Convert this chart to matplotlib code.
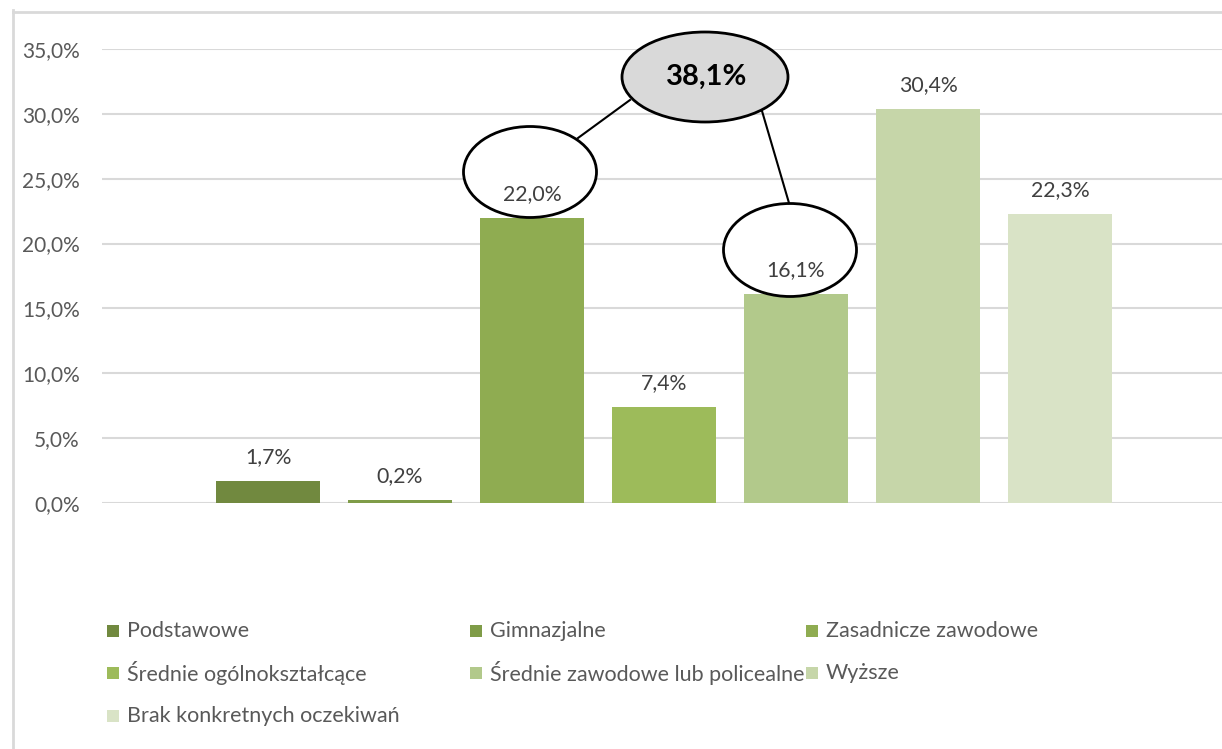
import matplotlib.pyplot as plt
from matplotlib.patches import Ellipse, Rectangle
from matplotlib.lines import Line2D

# Data
categories = ["Podstawowe", "Gimnazjalne", "Zasadnicze zawodowe", "Średnie ogólnokształcące",
              "Średnie zawodowe lub policealne", "Wyższe", "Brak konkretnych oczekiwań"]
values = [1.7, 0.2, 22.0, 7.4, 16.1, 30.4, 22.3]
colors = ["#71893F", "#7F9C48", "#8FAC51", "#9DBB5A", "#B2C98B", "#C6D6A9", "#D9E3C6"]
yticks = [0, 5, 10, 15, 20, 25, 30, 35]


def pl(v):
    return f"{v:.1f}%".replace(".", ",")


W, H = 1222, 749
plt.rcParams['font.family'] = ['Lato', 'DejaVu Sans']
fig = plt.figure(figsize=(W / 100, H / 100), dpi=100)


def fx(x):
    return x / W


def fy(y):
    return 1 - y / H


ax = fig.add_axes([fx(102), fy(503), (1226 - 102) / W, (503 - 49) / H])
xs = list(range(len(values)))
ax.bar(xs, values, width=104 / 132, color=colors, zorder=2)
ax.set_xlim(-1.258, 7.258)
ax.set_ylim(0, 35)
ax.set_yticks(yticks)
ax.set_yticklabels([pl(t) for t in yticks])
ax.set_xticks([])
ax.tick_params(axis='y', length=0, pad=16, labelsize=15, labelcolor='#595959')
ax.yaxis.grid(True, color='#D9D9D9', lw=1.5, zorder=0)
ax.set_axisbelow(True)
for s in ax.spines.values():
    s.set_visible(False)

# data labels
for i, v in enumerate(values):
    ax.annotate(pl(v), (i, v), xytext=(0, 14), textcoords='offset pixels',
                ha='center', va='bottom', fontsize=15.3, color='#404040', zorder=5)

# ellipses: sum of Zasadnicze + Średnie zawodowe
ell = [(705, 77, 166, 90, '#D9D9D9'), (530, 172, 133, 91, 'white'), (790, 250, 133, 93, 'white')]
for cx, cy, w, h, fc in ell:
    e = Ellipse((fx(cx), fy(cy)), w / W, h / H, transform=fig.transFigure,
                facecolor=fc, edgecolor='black', lw=2, zorder=3, clip_on=False)
    ax.add_patch(e)
for (x0, y0), (x1, y1) in [((578, 138), (630, 100)), ((762, 111), (789, 203))]:
    ax.add_line(Line2D([fx(x0), fx(x1)], [fy(y0), fy(y1)], transform=fig.transFigure,
                       color='black', lw=1.5, zorder=3, clip_on=False))
total = values[2] + values[4]
fig.text(fx(707), fy(77), pl(total), ha='center', va='center', fontsize=21,
         fontweight='bold', color='black', zorder=6)

# legend (3 columns)
col_x = [107, 470, 806]
row_y = [631, 673, 716]
for i, (name, c) in enumerate(zip(categories, colors)):
    px = col_x[i % 3]
    py = row_y[i // 3]
    fig.add_artist(Rectangle((fx(px), fy(py + 6)), 12 / W, 12 / H, transform=fig.transFigure,
                             facecolor=c, edgecolor='none'))
    fig.text(fx(px + 20), fy(py), name, ha='left', va='center', fontsize=15.5, color='#595959')

# chart area border (cropped)
fig.add_artist(Line2D([fx(13), fx(13)], [0, fy(10)], color='#D9D9D9', lw=2))
fig.add_artist(Line2D([fx(13), 1], [fy(12), fy(12)], color='#D9D9D9', lw=2))

fig.savefig("out.png", dpi=100, facecolor='white')
